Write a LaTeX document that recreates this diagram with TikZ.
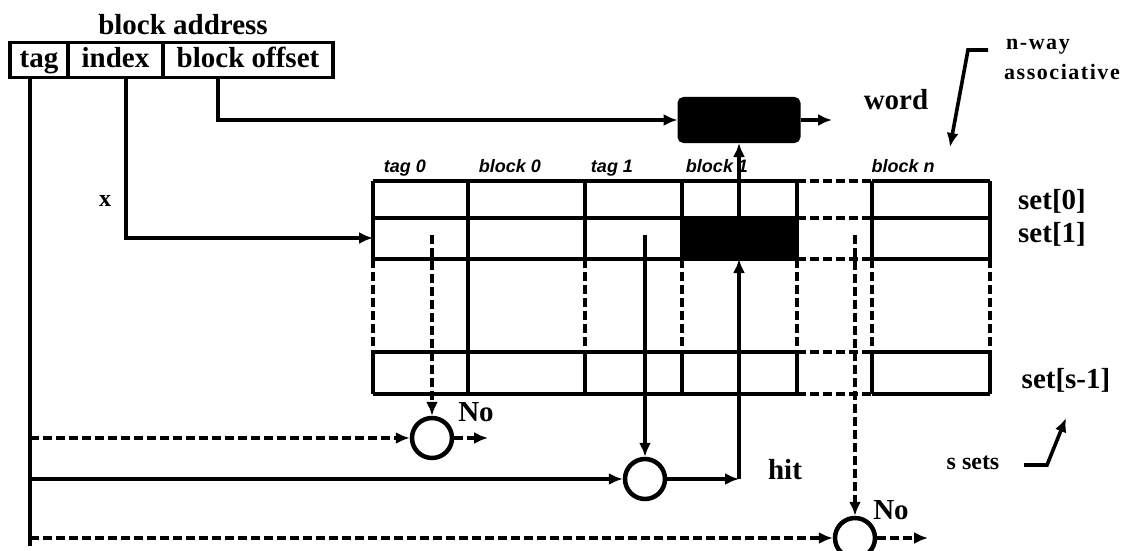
\documentclass[tikz,border=0pt]{standalone}
\usepackage{fontspec}
\setmainfont{Liberation Serif}
\setsansfont{Liberation Sans}
\newfontfamily\widefont[LetterSpace=7]{Liberation Serif}
\usetikzlibrary{arrows.meta,calc}
\tikzset{
  ln/.style={line width=3.6pt},
  dsh/.style={line width=3.6pt, dash pattern=on 9pt off 4pt},
  arr/.style={-{Latex[length=14pt,width=12pt]}},
  field/.style={draw, line width=3.6pt, minimum height=35pt, inner sep=0pt,
    text height=20pt, text depth=6pt,
    font=\fontsize{29}{31}\selectfont\bfseries},
  lab/.style={font=\fontsize{29}{31}\selectfont\bfseries, inner sep=0pt},
  small/.style={font=\widefont\fontsize{22}{24}\selectfont\bfseries, inner sep=0pt},
  hdr/.style={font=\fontsize{18}{20}\selectfont\sffamily\bfseries\itshape, inner sep=0pt, anchor=base},
  cmp/.style={circle, draw, line width=4.5pt, minimum size=40pt, inner sep=0pt},
}
\begin{document}
\begin{tikzpicture}[x=1pt,y=-1pt]
\useasboundingbox[fill=white] (0,0) rectangle (1128,551);

% address
\node[lab] (baddr) at (183,25) {block address};
\node[field, minimum width=58pt] (ftag) at (39,60) {tag};
\node[field, minimum width=95pt] (fidx) at (115.5,60) {index};
\node[field, minimum width=170pt] (foff) at (248,60) {block offset};

% table
\fill[black] (682,218) rectangle (797,259);
\foreach \y in {181,218,259,352,394}{
  \draw[ln] (373,\y) -- (797,\y);
  \draw[ln] (872,\y) -- (990,\y);
  \draw[dsh] (797,\y) -- (872,\y);
}
\foreach \x in {373,468,585,682,797,872,990}{
  \draw[ln] (\x,181) -- (\x,259);
  \draw[ln] (\x,352) -- (\x,394);
}
\foreach \x in {373,585,682,797,872,990}{
  \draw[dsh] (\x,259) -- (\x,352);
}
\draw[ln] (468,259) -- (468,352);

\node[hdr] (h0) at (405,172) {tag 0};
\node[hdr] (h1) at (510,172) {block 0};
\node[hdr] (h2) at (612,172) {tag 1};
\node[hdr] (h3) at (717,172) {block 1};
\node[hdr] (h4) at (903,172) {block n};

% word box
\node[fill=black, draw, line width=2pt, rounded corners=5pt, minimum width=121pt, minimum height=44pt] (word) at (739,120) {};
\node[lab] (wordl) at (896,100) {word};

% coordinates
\coordinate (t0) at (30,78);
\coordinate (tend) at (30,546);
\coordinate (b0) at (30,438);
\coordinate (b1) at (30,479);
\coordinate (b2) at (30,538);
\coordinate (i0) at (126,78);
\coordinate (i1) at (126,238);
\coordinate (tblin) at (373,238);
\coordinate (o0) at (218,78);
\coordinate (o1) at (218,120);
\coordinate (wout) at (832,120);

% comparators
\node[cmp] (c0) at (432,438) {};
\node[cmp] (c1) at (645,479) {};
\node[cmp] (c2) at (855,538) {};

\coordinate (r0) at (432,235);
\coordinate (r1) at (645,235);
\coordinate (r2) at (855,235);
\coordinate (n0) at (488,438);
\coordinate (hh) at (739,479);
\coordinate (hcell) at (739,259);
\coordinate (htop) at (739,218);
\coordinate (n2) at (928,538);

\draw[ln] (t0) -- (tend);
\draw[ln,arr] (i0) -- (i1) -- (tblin);
\draw[ln,arr] (o0) -- (o1) -- (word.west);
\draw[ln,arr] (word.east) -- (wout);

\draw[dsh,arr] (b0) -- (c0.west);
\draw[ln,arr] (b1) -- (c1.west);
\draw[dsh,arr] (b2) -- (c2.west);

\draw[dsh,arr] (r0) -- (c0.north);
\draw[ln,arr] (r1) -- (c1.north);
\draw[dsh,arr] (r2) -- (c2.north);

\draw[dsh,arr] (c0.east) -- (n0);
\draw[ln,arr] (c1.east) -- (hh);
\draw[ln,arr] (hh) -- (hcell);
\draw[ln,arr] (htop) -- (word.south);
\draw[dsh,arr] (c2.east) -- (n2);

% labels
\node[font=\fontsize{24}{26}\selectfont\bfseries, inner sep=0pt] (xl) at (105,201) {x};
\node[lab] (no0) at (476,412) {No};
\node[lab] (no2) at (891,510) {No};
\node[lab] (hit) at (785,470) {hit};
\node[lab] (s0) at (1052,201) {set[0]};
\node[lab] (s1) at (1052,234) {set[1]};
\node[lab] (s2) at (1066,380) {set[s-1]};

\node[small, anchor=west] (nway) at (1006,47) {n-way};
\node[small, anchor=west] (assoc) at (1004,72) {associative};
\coordinate (na0) at (988,50);
\coordinate (na1) at (968,50);
\coordinate (na2) at (950,147);
\draw[ln,arr] (na0) -- (na1) -- (na2);

\node[font=\fontsize{24}{26}\selectfont\bfseries, inner sep=0pt] (ssets) at (973,463) {s sets};
\coordinate (sa0) at (1024,465);
\coordinate (sa1) at (1047,465);
\coordinate (sa2) at (1066,418);
\draw[ln,arr] (sa0) -- (sa1) -- (sa2);
\end{tikzpicture}
\end{document}
